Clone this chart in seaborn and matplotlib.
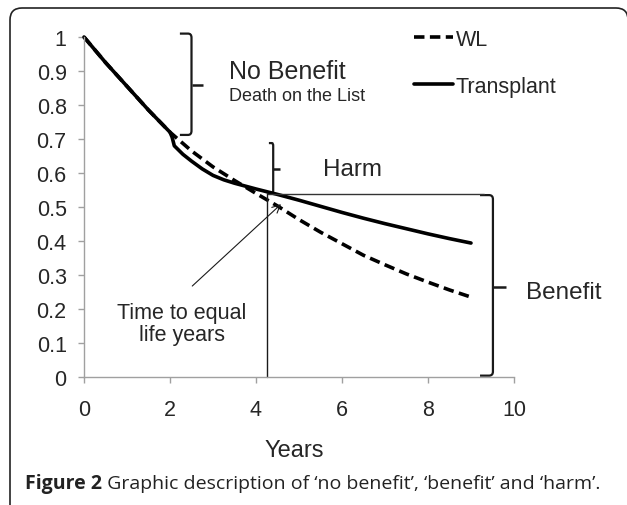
import matplotlib
matplotlib.use("Agg")
import matplotlib.pyplot as plt
from matplotlib.path import Path
from matplotlib.patches import PathPatch, FancyBboxPatch
import seaborn as sns
import pandas as pd

# survival curves
wl_years = [0, 0.5, 1, 1.5, 2, 2.5, 3, 3.5, 4, 4.5, 5, 5.5, 6, 6.5, 7, 7.5, 8, 8.5, 9]
wl_surv = [1.0, 0.925, 0.855, 0.785, 0.72, 0.665, 0.618, 0.578, 0.54, 0.503, 0.463,
           0.426, 0.392, 0.358, 0.33, 0.303, 0.279, 0.256, 0.235]
tx_years = [0, 0.5, 1, 1.5, 2, 2.05, 2.1, 2.3, 2.5, 2.75, 3, 3.25, 3.5, 4, 4.5, 5,
            5.5, 6, 6.5, 7, 7.5, 8, 8.5, 9]
tx_surv = [1.0, 0.925, 0.855, 0.785, 0.72, 0.705, 0.68, 0.655, 0.635, 0.612, 0.593,
           0.58, 0.57, 0.553, 0.537, 0.52, 0.502, 0.484, 0.467, 0.451, 0.436, 0.421,
           0.407, 0.394]
groups = ["WL", "Transplant"]
x_ticks = [0, 2, 4, 6, 8, 10]
y_ticks = [0, 0.1, 0.2, 0.3, 0.4, 0.5, 0.6, 0.7, 0.8, 0.9, 1]
y_tick_labels = ["0", "0.1", "0.2", "0.3", "0.4", "0.5", "0.6", "0.7", "0.8", "0.9", "1"]
caption_bold = "Figure 2"
caption_rest = " Graphic description of \u2018no benefit\u2019, \u2018benefit\u2019 and \u2018harm\u2019."

df = pd.concat([
    pd.DataFrame({"Years": wl_years, "Survival": wl_surv, "Group": "WL"}),
    pd.DataFrame({"Years": tx_years, "Survival": tx_surv, "Group": "Transplant"}),
])

sns.set_style("white")
plt.rcParams["font.family"] = ["Liberation Sans", "DejaVu Sans"]

fig = plt.figure(figsize=(6.27, 5.06), dpi=100)
ax = fig.add_axes([84 / 627, 1 - 378 / 506, 430 / 627, 340 / 506])

sns.lineplot(data=df, x="Years", y="Survival", hue="Group", style="Group",
             hue_order=groups, style_order=groups,
             palette={"WL": "black", "Transplant": "black"},
             dashes={"WL": (2.9, 1.5), "Transplant": ""},
             linewidth=2.6, ax=ax, clip_on=False)

ax.set_xlim(0, 10)
ax.set_ylim(0, 1)
ax.set_xticks(x_ticks)
ax.set_yticks(y_ticks)
ax.set_yticklabels(y_tick_labels)
ax.tick_params(axis="both", labelsize=15.5, color="#a0a0a0", length=4.5, width=1,
               direction="out", left=True, bottom=True)
ax.tick_params(axis="y", pad=8)
ax.tick_params(axis="x", pad=11)
for s in ["top", "right"]:
    ax.spines[s].set_visible(False)
for s in ["left", "bottom"]:
    ax.spines[s].set_color("#a0a0a0")
    ax.spines[s].set_linewidth(1)
ax.set_ylabel("")
ax.set_xlabel("Years", fontsize=17)
ax.xaxis.set_label_coords(0.488, -0.214)
ax.xaxis.label.set_va("center")

ax.legend(loc="upper left", bbox_to_anchor=(414 / 627, 1 - 30 / 506),
          bbox_transform=fig.transFigure, frameon=False, fontsize=15.5,
          handlelength=1.8, handletextpad=0.15, labelspacing=1.2,
          borderpad=0, borderaxespad=0)


def brace(x, y0, y1, ytip, hook, tip, ry=0.012):
    # vertical curly bracket opening to the left, tip to the right
    verts = [(x - hook, y1), (x - hook * 0.3, y1), (x, y1), (x, y1 - ry),
             (x, y0 + ry), (x, y0), (x - hook * 0.3, y0), (x - hook, y0)]
    codes = [Path.MOVETO, Path.LINETO, Path.CURVE3, Path.CURVE3,
             Path.LINETO, Path.CURVE3, Path.CURVE3, Path.LINETO]
    ax.add_patch(PathPatch(Path(verts, codes), fill=False, lw=1.6,
                           color="#1a1a1a", clip_on=False))
    ax.plot([x, x + tip], [ytip, ytip], color="#1a1a1a", lw=1.8, clip_on=False,
            solid_capstyle="butt")


brace(2.5, 0.712, 1.01, 0.86, 0.27, 0.27)
brace(4.4, 0.541, 0.688, 0.612, 0.1, 0.15, ry=0.008)
brace(9.51, 0.004, 0.535, 0.265, 0.3, 0.3)

# time to equal life years markers
ax.plot([4.28, 9.3], [0.538, 0.538], color="#333333", lw=1, clip_on=False)
ax.plot([4.25, 4.25], [0, 0.54], color="#1a1a1a", lw=1, clip_on=False)
ax.annotate("", xy=(4.63, 0.514), xytext=(2.47, 0.262),
            arrowprops=dict(arrowstyle="->", color="#1a1a1a", lw=0.8,
                            mutation_scale=14))

ax.text(3.37, 0.90, "No Benefit", fontsize=18, va="center", ha="left")
ax.text(3.37, 0.827, "Death on the List", fontsize=13, va="center", ha="left")
ax.text(5.55, 0.612, "Harm", fontsize=17.5, va="center", ha="left")
ax.text(10.29, 0.251, "Benefit", fontsize=17.5, va="center", ha="left", clip_on=False)
ax.text(2.27, 0.157, "Time to equal\nlife years", fontsize=15.5, va="center",
        ha="center", linespacing=1.05)

# figure frame with rounded top corners
frame = FancyBboxPatch((0.10, -0.6), 6.18, 5.06 - 0.09 + 0.6,
                       boxstyle="round,pad=0,rounding_size=0.12",
                       transform=fig.dpi_scale_trans, fill=False,
                       edgecolor="#222222", lw=1.2)
fig.patches.append(frame)

cap_font = ["Open Sans", "DejaVu Sans"]
t1 = fig.text(25 / 627, 1 - 484 / 506, caption_bold, fontsize=14, weight="bold",
              va="center", ha="left", family=cap_font, color="#222222")
ax.annotate(caption_rest, xy=(1, 0.5), xycoords=t1, va="center", ha="left",
            fontsize=14, family=cap_font, color="#222222",
            annotation_clip=False)

fig.savefig("out.png", dpi=100)
